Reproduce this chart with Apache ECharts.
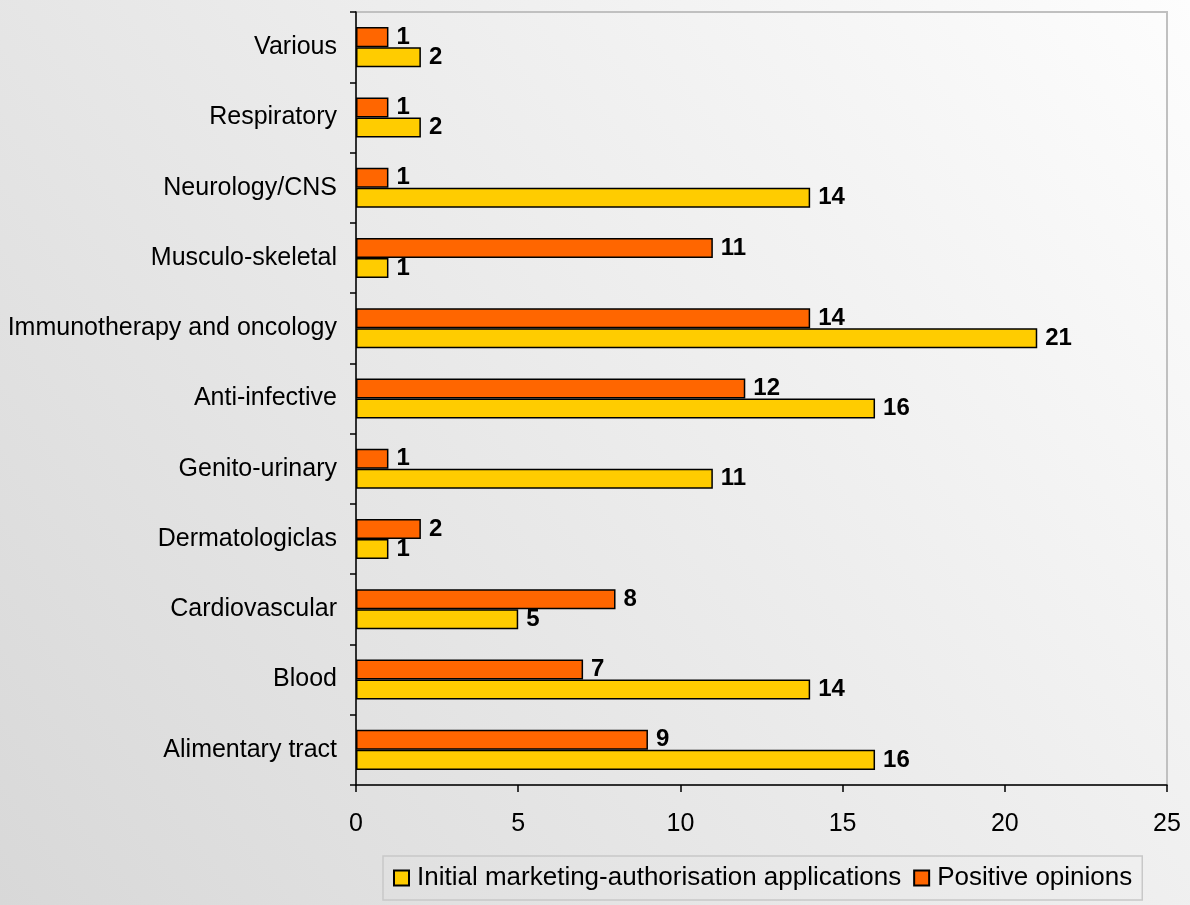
<!DOCTYPE html>
<html>
<head>
<meta charset="utf-8">
<script src="https://cdn.jsdelivr.net/npm/echarts@6/dist/echarts.min.js"></script>
<style>
html,body{margin:0;padding:0;}
#chart{width:1190px;height:905px;}
</style>
</head>
<body>
<div id="chart"></div>
<script>
var categories = ['Alimentary tract','Blood','Cardiovascular','Dermatologiclas','Genito-urinary','Anti-infective','Immunotherapy and oncology','Musculo-skeletal','Neurology/CNS','Respiratory','Various'];
var initialApplications = [16,14,5,1,11,16,21,1,14,2,2];
var positiveOpinions = [9,7,8,2,1,12,14,11,1,1,1];
var xTicks = [0,5,10,15,20,25];

var chart = echarts.init(document.getElementById('chart'));
var font = 'Arial, "Liberation Sans", sans-serif';
var labelCfg = {show:true, position:'right', distance:8, color:'#000', fontWeight:'bold', fontSize:24, fontFamily:font};
chart.setOption({
  animation:false,
  backgroundColor:{type:'linear',x:1,y:0,x2:0,y2:1,colorStops:[{offset:0,color:'#fdfdfd'},{offset:1,color:'#d8d8d8'}]},
  grid:{left:356,right:23,top:12,bottom:120,show:true,borderColor:'#c0c0c0',borderWidth:2,backgroundColor:'transparent'},
  legend:{
    bottom:5,left:383,
    backgroundColor:'rgba(255,255,255,0.0)',
    borderColor:'#c8c8c8',borderWidth:1.5,
    padding:[9,10,9,10],
    icon:'rect',
    itemWidth:15,itemHeight:15,itemGap:12,
    textStyle:{fontSize:26,fontFamily:font,color:'#000',padding:[0,0,0,3]},
    data:['Initial marketing-authorisation applications','Positive opinions']
  },
  xAxis:{
    type:'value',min:0,max:25,interval:5,
    axisLine:{show:true,lineStyle:{color:'#000',width:1.5}},
    axisTick:{show:true,length:7,lineStyle:{color:'#000',width:1.5}},
    splitLine:{show:false},
    axisLabel:{fontSize:25,fontFamily:font,color:'#000',margin:27,
      formatter:function(v){return xTicks.indexOf(v)>=0?String(v):'';}}
  },
  yAxis:{
    type:'category',data:categories,
    axisLine:{show:true,lineStyle:{color:'#000',width:1.5}},
    axisTick:{show:true,length:6,lineStyle:{color:'#000',width:1.5}},
    axisLabel:{fontSize:25,fontFamily:font,color:'#000',margin:19}
  },
  series:[
    {name:'Positive opinions',type:'bar',data:positiveOpinions,
     barGap:'0%',barCategoryGap:'43%',
     itemStyle:{color:'#FF6600',borderColor:'#000',borderWidth:1.5},
     label:labelCfg},
    {name:'Initial marketing-authorisation applications',type:'bar',data:initialApplications,
     barGap:'0%',barCategoryGap:'43%',
     itemStyle:{color:'#FFCC00',borderColor:'#000',borderWidth:1.5},
     label:labelCfg}
  ]
});
</script>
</body>
</html>
